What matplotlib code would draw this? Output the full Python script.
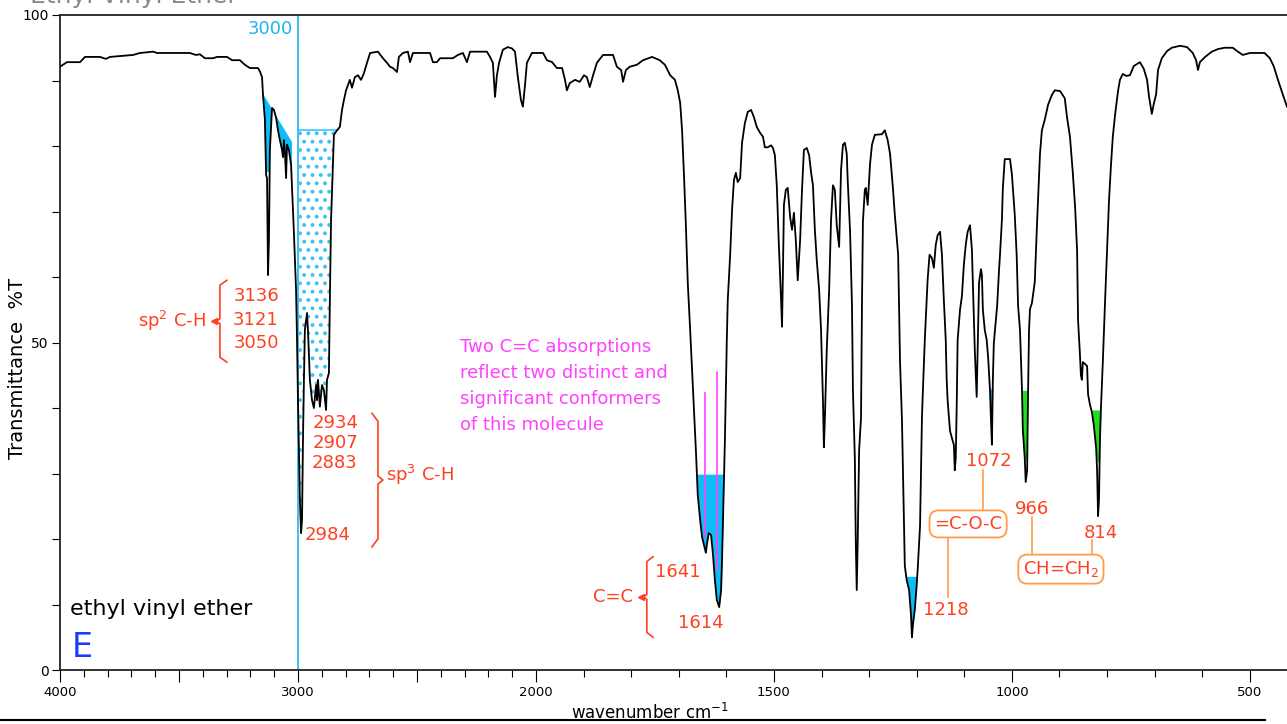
import matplotlib
matplotlib.use("Agg")

import matplotlib.pyplot as plt
import numpy as np

# =====================
# spectrum (wavenumber cm-1, %T)
# =====================
wavenumber = [
    4000, 3971, 3916, 3895, 3832, 3807, 3790, 3693, 3664, 3609, 3592, 3454, 3429, 3412,
    3391, 3357, 3340, 3298, 3277, 3244, 3223, 3202, 3168, 3159, 3151, 3147, 3143, 3139,
    3134, 3130, 3126, 3122, 3118, 3109, 3101, 3092, 3084, 3076, 3067, 3063, 3059, 3055,
    3050, 3046, 3038, 3029, 3025, 3017, 3008, 3004, 3000, 2996, 2992, 2987, 2983, 2979,
    2975, 2971, 2962, 2958, 2950, 2941, 2933, 2924, 2920, 2916, 2908, 2899, 2891, 2882,
    2878, 2870, 2866, 2861, 2853, 2849, 2836, 2824, 2815, 2807, 2798, 2790, 2782, 2773,
    2761, 2748, 2735, 2723, 2710, 2697, 2664, 2643, 2626, 2613, 2601, 2584, 2576, 2559,
    2538, 2529, 2517, 2445, 2433, 2416, 2403, 2349, 2328, 2307, 2290, 2277, 2206, 2193,
    2181, 2172, 2164, 2155, 2139, 2118, 2101, 2088, 2076, 2063, 2055, 2046, 2038, 2017,
    2000, 1985, 1977, 1966, 1956, 1945, 1939, 1935, 1929, 1918, 1908, 1899, 1893, 1887,
    1880, 1872, 1859, 1838, 1830, 1821, 1817, 1811, 1803, 1788, 1775, 1756, 1740, 1729,
    1718, 1708, 1702, 1697, 1693, 1689, 1685, 1681, 1676, 1672, 1668, 1664, 1660, 1655,
    1651, 1647, 1643, 1641, 1637, 1632, 1628, 1624, 1620, 1615, 1611, 1609, 1607, 1603,
    1601, 1599, 1597, 1592, 1588, 1584, 1580, 1576, 1571, 1567, 1561, 1555, 1548, 1542,
    1536, 1529, 1523, 1519, 1513, 1506, 1502, 1498, 1494, 1490, 1485, 1483, 1481, 1479,
    1475, 1471, 1466, 1462, 1458, 1454, 1450, 1445, 1441, 1437, 1431, 1426, 1422, 1418,
    1414, 1410, 1405, 1401, 1397, 1395, 1393, 1389, 1384, 1380, 1376, 1372, 1368, 1363,
    1359, 1355, 1351, 1347, 1345, 1340, 1336, 1334, 1330, 1328, 1326, 1324, 1321, 1317,
    1315, 1313, 1309, 1307, 1303, 1298, 1294, 1288, 1273, 1267, 1261, 1256, 1250, 1246,
    1239, 1237, 1235, 1231, 1227, 1225, 1221, 1216, 1212, 1210, 1208, 1204, 1200, 1198,
    1193, 1189, 1187, 1183, 1179, 1177, 1173, 1168, 1164, 1160, 1156, 1151, 1147, 1143,
    1139, 1137, 1135, 1130, 1126, 1122, 1120, 1118, 1116, 1114, 1109, 1105, 1101, 1097,
    1093, 1088, 1084, 1082, 1078, 1074, 1071, 1069, 1065, 1063, 1061, 1057, 1053, 1050,
    1046, 1044, 1042, 1040, 1038, 1031, 1027, 1025, 1021, 1019, 1015, 1004, 1000, 998,
    994, 990, 987, 983, 979, 977, 973, 971, 968, 966, 964, 962, 958, 952,
    947, 941, 937, 931, 924, 916, 910, 899, 889, 884, 878, 872, 867, 863,
    861, 857, 855, 853, 851, 846, 842, 840, 836, 832, 828, 823, 821, 819,
    817, 815, 813, 809, 804, 800, 796, 792, 788, 783, 777, 773, 767, 760,
    752, 744, 731, 723, 716, 712, 708, 706, 702, 697, 693, 685, 674, 664,
    647, 632, 620, 613, 609, 605, 594, 580, 567, 553, 536, 527, 515, 500,
    469, 458, 450, 441, 431, 422,
]
transmittance = [
    92.1, 92.8, 92.8, 93.6, 93.6, 93.3, 93.6, 93.9, 94.2, 94.4, 94.2, 94.2, 93.9, 94.0,
    93.4, 93.4, 93.6, 93.6, 93.1, 93.1, 92.4, 91.9, 91.9, 91.3, 90.5, 87.8, 86.0, 84.0,
    75.6, 75.1, 60.3, 65.6, 79.4, 85.8, 85.5, 84.3, 82.4, 80.9, 79.4, 78.3, 80.9, 79.1,
    75.1, 80.2, 79.4, 77.1, 73.7, 66.7, 58.0, 50.4, 41.2, 33.6, 26.0, 20.9, 22.9, 35.1,
    44.3, 51.9, 54.5, 51.9, 44.3, 41.2, 40.0, 43.5, 41.2, 44.3, 40.2, 43.5, 42.7, 39.7,
    44.3, 45.3, 56.5, 68.7, 77.1, 81.7, 82.4, 82.9, 85.5, 87.0, 88.5, 89.3, 90.1, 88.9,
    90.5, 90.8, 90.1, 91.1, 92.7, 94.2, 94.4, 93.4, 92.7, 92.1, 91.9, 91.3, 93.6, 94.2,
    94.4, 92.8, 94.2, 94.2, 92.8, 92.8, 93.4, 93.4, 93.9, 94.2, 92.8, 94.4, 94.4, 93.6,
    92.7, 87.5, 90.8, 92.7, 94.7, 95.1, 94.9, 94.4, 90.5, 87.0, 86.0, 89.3, 92.7, 94.2,
    94.2, 94.2, 93.1, 92.8, 91.9, 91.9, 90.1, 88.5, 89.6, 90.1, 89.8, 90.8, 90.5, 89.0,
    90.8, 92.7, 93.9, 93.9, 92.1, 91.6, 89.8, 91.6, 92.1, 92.4, 93.1, 93.6, 93.1, 92.4,
    90.8, 90.1, 88.5, 86.6, 82.4, 75.6, 67.9, 59.1, 51.9, 45.8, 39.7, 33.6, 26.7, 22.9,
    20.3, 19.1, 17.9, 19.1, 20.9, 20.6, 17.6, 13.7, 10.7, 9.6, 12.2, 16.8, 22.9, 35.1,
    42.7, 50.4, 56.5, 63.3, 70.2, 74.8, 75.9, 74.5, 75.1, 80.5, 83.5, 85.2, 85.5, 84.4,
    82.9, 82.0, 81.4, 79.8, 79.8, 80.1, 79.7, 78.6, 74.0, 65.6, 56.5, 52.4, 61.1, 71.0,
    73.3, 73.6, 69.2, 67.2, 69.8, 65.6, 59.5, 65.6, 73.3, 79.4, 79.7, 78.6, 76.0, 74.0,
    67.2, 62.6, 58.0, 51.9, 41.2, 34.0, 38.2, 48.9, 58.0, 68.7, 74.0, 73.3, 67.9, 64.6,
    76.3, 80.2, 80.5, 78.8, 74.8, 66.9, 55.6, 42.7, 32.4, 19.4, 12.2, 19.4, 33.6, 38.5,
    56.0, 68.5, 73.3, 73.6, 71.0, 77.3, 80.2, 81.7, 81.8, 82.4, 80.9, 78.8, 73.6, 69.5,
    63.4, 55.0, 46.9, 38.2, 22.9, 15.9, 13.7, 12.2, 8.4, 5.0, 6.9, 9.2, 13.0, 15.3,
    22.0, 38.5, 42.7, 50.4, 56.5, 59.7, 63.4, 62.9, 61.4, 64.9, 66.4, 66.9, 63.4, 56.5,
    50.4, 44.3, 41.1, 36.5, 35.4, 34.4, 30.5, 32.4, 40.2, 50.4, 55.0, 57.1, 61.8, 64.9,
    66.9, 67.9, 64.1, 59.2, 48.9, 41.7, 51.9, 59.2, 61.2, 60.3, 55.0, 51.9, 50.4, 47.8,
    42.7, 38.2, 34.4, 44.3, 49.9, 55.6, 61.1, 63.4, 68.7, 73.6, 78.0, 78.0, 75.7, 73.6,
    69.5, 63.4, 55.6, 51.9, 43.2, 36.6, 32.4, 28.7, 30.5, 42.7, 51.9, 55.1, 56.0, 59.2,
    68.5, 78.8, 82.4, 84.0, 86.3, 87.8, 88.5, 88.4, 87.3, 84.3, 81.4, 75.9, 70.4, 64.0,
    53.4, 48.1, 45.0, 44.3, 47.0, 46.7, 46.4, 42.1, 40.5, 39.4, 37.4, 33.9, 30.5, 23.5,
    26.0, 35.1, 39.8, 47.0, 56.8, 64.0, 71.6, 76.9, 81.4, 84.9, 88.4, 90.1, 91.0, 90.7,
    90.8, 92.2, 92.8, 91.8, 90.1, 87.6, 85.8, 84.9, 86.4, 87.9, 91.6, 93.4, 94.5, 95.0,
    95.3, 95.1, 94.2, 93.1, 91.6, 92.8, 93.6, 94.4, 94.8, 95.0, 95.0, 94.5, 93.9, 94.2,
    94.2, 93.4, 92.2, 90.1, 87.9, 86.0,
]

x_major = [4000, 3500, 3000, 2500, 2000, 1500, 1000, 500]
x_major_labels = ["4000", "", "3000", "", "2000", "1500", "1000", "500"]
y_ticks = list(range(0, 101, 10))
y_labels = ["0", "", "", "", "", "50", "", "", "", "", "100"]

RED = "#ff4020"
ORANGE = "#ff9c4a"
PINK = "#ff40ff"
CYAN = "#1fb4ec"
BLUE_FILL = "#0cbdf6"
GREEN_FILL = "#22dd22"

wn = np.array(wavenumber, float)
T = np.array(transmittance, float)


# x axis: 4000-2000 at half the scale of 2000-400
def fwd(w):
    w = np.asarray(w, float)
    return np.where(w > 2000, 2000 + (w - 2000) / 2, w)


def inv(u):
    u = np.asarray(u, float)
    return np.where(u > 2000, 2000 + (u - 2000) * 2, u)


plt.rcParams["hatch.color"] = "#3cc3f5"
plt.rcParams["hatch.linewidth"] = 1.6

fig = plt.figure(figsize=(12.87, 7.24), dpi=100)
ax = fig.add_axes([60 / 1287, 54 / 724, 1227 / 1287, 655 / 724])
ax.set_xscale("function", functions=(fwd, inv))
ax.set_xlim(4000, 422)
ax.set_ylim(0, 100)

# --- highlighted bands ---
def band(lo, hi, level, floor=0, color=BLUE_FILL):
    m = (wn >= lo) & (wn <= hi)
    ax.fill_between(wn[m], np.maximum(T[m], floor), level, where=T[m] < level,
                    interpolate=True, color=color, lw=0, zorder=2)


# sp2 C-H, sloping baseline
m = (wn >= 3025) & (wn <= 3151)
base = 80.6 + (wn[m] - 3025) * (88.2 - 80.6) / (3151 - 3025)
ax.fill_between(wn[m], np.maximum(T[m], 76), base, where=T[m] < base,
                interpolate=True, color=BLUE_FILL, lw=0, zorder=2)

# sp3 C-H, dotted
m = (wn >= 2836) & (wn <= 3000)
ax.fill_between(wn[m], T[m], 82.4, hatch="..", facecolor="none",
                edgecolor="#3cc3f5", lw=0, zorder=2)
ax.plot([3000, 2836], [82.4, 82.4], color="#3cc3f5", lw=1.2, zorder=2)

band(1601, 1664, 29.9)
band(1197, 1226, 14.3)
band(1038, 1048, 42.9, floor=35)
band(964, 980, 42.7, floor=32.1, color=GREEN_FILL)
band(811, 832, 39.7, floor=31.8, color=GREEN_FILL)

ax.axvline(3000, color=CYAN, lw=1.2, zorder=1.5)
ax.plot(wn, T, color="black", lw=1.3, zorder=3)

# --- axes style ---
for s in ["left", "top", "bottom"]:
    ax.spines[s].set_linewidth(1.3)
    ax.spines[s].set_color("#222222")
ax.spines["right"].set_visible(False)

ax.set_xticks(x_major, labels=x_major_labels)
ax.set_xticks([w for w in range(500, 4001, 100) if w % 500], minor=True)
ax.set_yticks(y_ticks, labels=y_labels)
ax.tick_params(axis="x", which="major", length=8.5, width=0.8, pad=3, labelsize=9.5)
ax.tick_params(axis="x", which="minor", length=5, width=0.8)
ax.tick_params(axis="y", which="major", length=6, width=0.8, pad=2, labelsize=10)

fig.text(18 / 1287, 1 - 368 / 724, "Transmittance  %T", rotation=90,
         ha="center", va="center", fontsize=14)
fig.text(650 / 1287, 1 - 713 / 724, "wavenumber cm$^{-1}$",
         ha="center", va="center", fontsize=12)
fig.text(30 / 1287, 1 - 3 / 724, "Ethyl Vinyl Ether", color="#8a8a8a",
         fontsize=18, va="baseline")
fig.add_artist(plt.Line2D([0, 1265 / 1287], [4 / 724, 4 / 724], color="black", lw=1.5))


# --- annotations ---
def brace(x, y0, y1, dx, nub, color=RED):
    ym = (y0 + y1) / 2
    c = (y0 - y1) * 0.06
    xs = [x + dx, x, x, x + nub, x, x, x + dx]
    ys = [y0, y0 - c, ym + c * 0.5, ym, ym - c * 0.5, y1 + c, y1]
    ax.plot(xs, ys, color=color, lw=1.2, zorder=4)


kw = dict(color=RED, fontsize=13, va="center", zorder=5)

ax.text(3021, 97.9, "3000", color=CYAN, fontsize=13, ha="right", va="center")

ax.text(3269, 57.1, "3136", ha="left", **kw)
ax.text(3273, 53.4, "3121", ha="left", **kw)
ax.text(3269, 49.9, "3050", ha="left", **kw)
brace(3328, 59.5, 47.0, -29, 17)
ax.plot([3352], [53.25], marker="<", ms=4, color=RED)
ax.text(3385, 53.3, "sp$^2$ C-H", ha="right", **kw)

ax.text(2937, 37.7, "2934", ha="left", **kw)
ax.text(2937, 34.7, "2907", ha="left", **kw)
ax.text(2941, 31.6, "2883", ha="left", **kw)
ax.text(2971, 20.6, "2984", ha="left", **kw)
brace(2664, 39.2, 18.8, 25, -21)
ax.text(2630, 29.8, "sp$^3$ C-H", ha="left", **kw)

pink_lines = ["Two C=C absorptions", "reflect two distinct and",
              "significant conformers", "of this molecule"]
for i, line in enumerate(pink_lines):
    ax.text(2319, 49.3 - i * 3.97, line, color=PINK, fontsize=13, ha="left", va="center")
ax.plot([1645, 1645], [42.3, 20.5], color=PINK, lw=1.2, zorder=4)
ax.plot([1620, 1620], [45.5, 15.3], color=PINK, lw=1.2, zorder=4)

ax.text(1750, 15.0, "1641", ha="left", **kw)
ax.text(1702, 7.2, "1614", ha="left", **kw)
brace(1767, 17.3, 5.0, -13, 8)
ax.plot([1779], [11.15], marker="<", ms=4, color=RED)
ax.text(1796, 11.1, "C=C", ha="right", **kw)

ax.text(1187, 9.2, "1218", ha="left", **kw)
ax.text(1048, 31.9, "1072", ha="center", **kw)
ax.text(958, 24.6, "966", ha="center", **kw)
ax.text(813, 20.9, "814", ha="center", **kw)

box = dict(boxstyle="round,pad=0.25,rounding_size=0.5", fc="white", ec=ORANGE, lw=1.3)
ax.text(1092, 22.3, "=C-O-C", ha="center", bbox=box, **kw)
ax.text(897, 15.4, "CH=CH$_2$", ha="center", bbox=box, **kw)
ax.plot([1061, 1061], [30.5, 24.1], color=ORANGE, lw=1.2, zorder=4)
ax.plot([1134, 1134], [20.3, 11.1], color=ORANGE, lw=1.2, zorder=4)
ax.plot([958, 958], [23.4, 17.9], color=ORANGE, lw=1.2, zorder=4)
ax.plot([832, 832], [19.8, 17.6], color=ORANGE, lw=1.2, zorder=4)

ax.text(3958, 9.3, "ethyl vinyl ether", fontsize=16, ha="left", va="center")
ax.text(3950, 3.5, "E", color="#1a3cff", fontsize=24, ha="left", va="center")

plt.savefig("out.png", dpi=100)
